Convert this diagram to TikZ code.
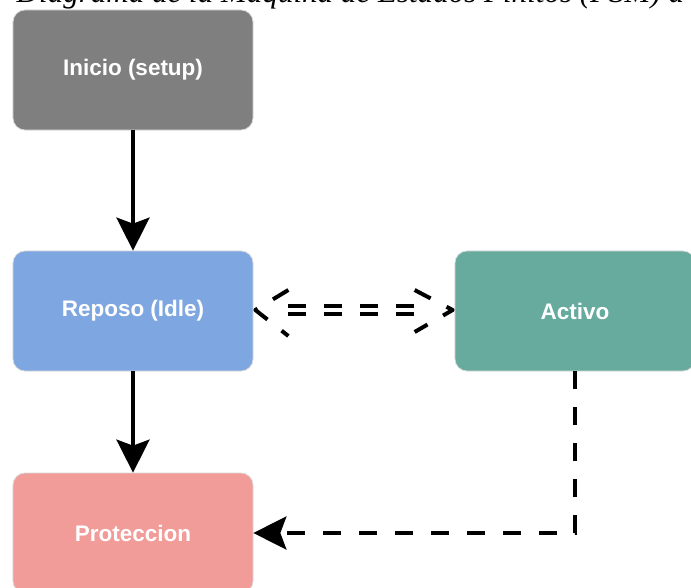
\documentclass[tikz,border=0pt]{standalone}
\usepackage{fontspec}
\usepackage{xcolor}
\usepackage{tikz}
\usetikzlibrary{arrows.meta, positioning, calc}
\newfontfamily\boxfont{Liberation Sans}
\newfontfamily\titlefont{Liberation Serif}
\definecolor{inicioGray}{HTML}{7F7F7F}
\definecolor{reposoBlue}{HTML}{7EA6E0}
\definecolor{activoGreen}{HTML}{67AB9F}
\definecolor{proteccionRed}{HTML}{F19C99}
\definecolor{boxEdge}{HTML}{DADADA}
\begin{document}
\begin{tikzpicture}[x=0.03cm, y=-0.03cm,
    estado/.style={draw=boxEdge, line width=0.6pt, rounded corners=0.36cm, minimum width=7.2cm, minimum height=3.6cm, text=white, font=\boxfont\bfseries\fontsize{19.2pt}{23pt}\selectfont},
    trans/.style={line width=3.4pt, -{Stealth[length=0.99cm, width=0.99cm, inset=0.18cm]}},
    transdash/.style={trans, dash pattern=on 0.54cm off 0.54cm},
    puntas/.style={line width=3.4pt, line join=round, dash pattern=on 0.54cm off 0.54cm}]
        \path[use as bounding box, fill=white] (0,0) rectangle (691,588);
        \node[anchor=base west, inner sep=0pt, font=\titlefont\itshape\fontsize{26.5pt}{32pt}\selectfont] (titulo) at (16.5,2) {Diagrama de la Máquina de Estados Finitos (FSM) d};
        \foreach \nombre/\pos/\col/\texto in {inicio/{133,70}/inicioGray/{Inicio (setup)}, reposo/{133,311}/reposoBlue/{Reposo (Idle)}, activo/{575,311}/activoGreen/{Activo}, proteccion/{133,533}/proteccionRed/{Proteccion}}{
          \node[estado, fill=\col] (\nombre) at (\pos) {\texto};
        }
        \draw[trans] (inicio) -- (reposo);
        \draw[trans] (reposo) -- (proteccion);
        \draw[transdash] (activo.south) |- (proteccion.east);
        \draw[puntas] ($(reposo.east)+(35,-5)$) -- ($(activo.west)+(-40,-5)$);
        \draw[puntas] ($(reposo.east)+(35,3)$) -- ($(activo.west)+(-40,3)$);
        \draw[puntas] ($(reposo.east)+(35,-21)$) -- ($(reposo.east)+(2,-1)$) -- ($(reposo.east)+(35,25)$);
        \draw[puntas] ($(activo.west)+(-40,-21)$) -- ($(activo.west)+(-2,-1)$) -- ($(activo.west)+(-40,21)$);
      \end{tikzpicture}
\end{document}
